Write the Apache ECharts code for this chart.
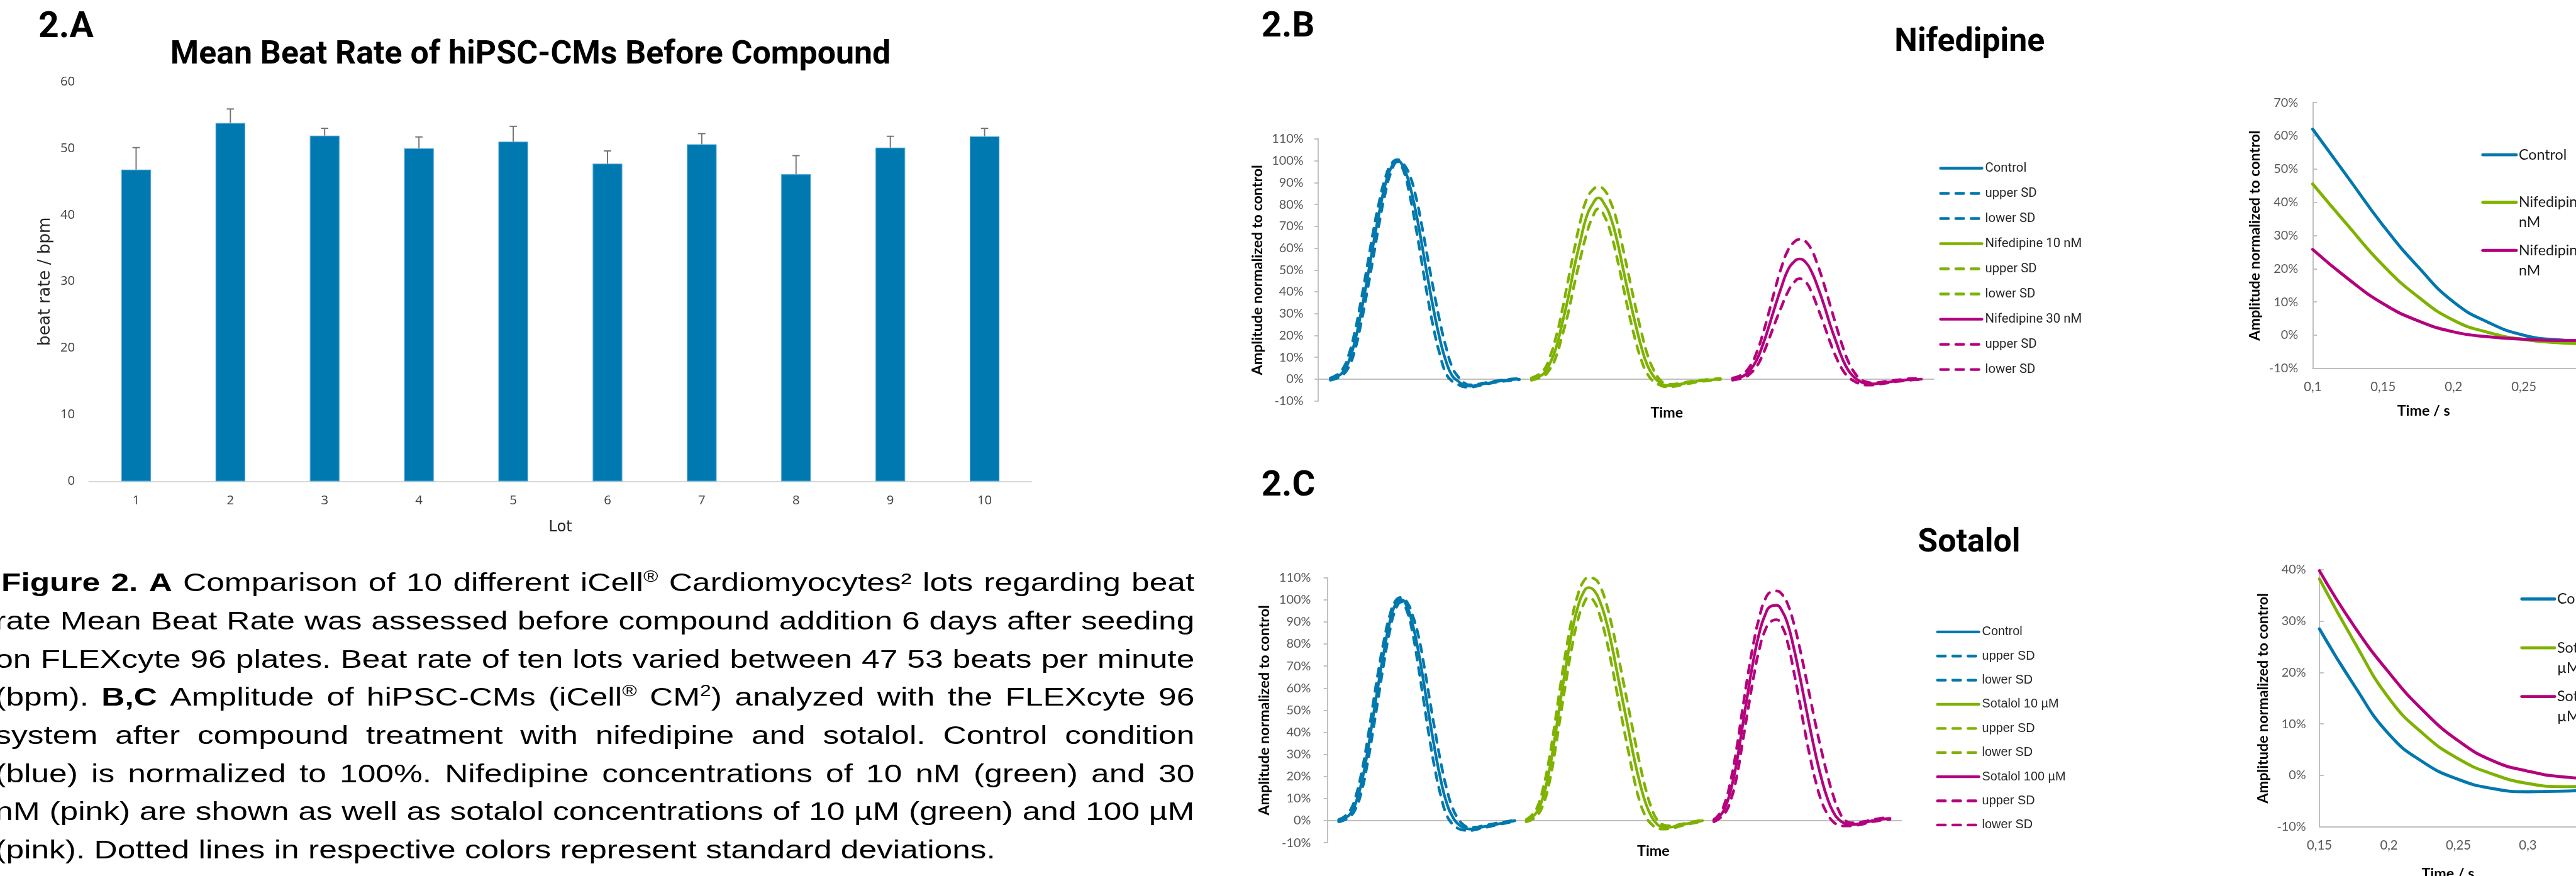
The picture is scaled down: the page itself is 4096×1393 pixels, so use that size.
<!DOCTYPE html>
<html><head><meta charset="utf-8">
<script src="https://cdn.jsdelivr.net/npm/echarts@6/dist/echarts.min.js"></script>
<style>html,body{margin:0;padding:0;background:#fff;overflow:hidden}#c{width:4096px;height:1393px}</style>
</head><body><div id="c"></div>
<script>
// ================= DATA =================
// Panel 2.A - mean beat rate per lot
const LOTS = ['1','2','3','4','5','6','7','8','9','10'];
const BEAT_RATE = [46.8, 53.8, 51.9, 50.0, 51.0, 47.7, 50.6, 46.1, 50.1, 51.8];
const BEAT_RATE_SD = [3.3, 2.1, 1.1, 1.7, 2.3, 1.9, 1.6, 2.8, 1.7, 1.2];

// Panels 2.B / 2.C - averaged beats; sample index where each beat starts on the time axis
const BEAT_START = [2, 35, 68];

// 2.B Nifedipine (amplitude % of control)
const NIF_CTRL    = [0, 1, 3, 8, 17, 30, 45, 61, 76, 89, 97, 100, 97, 89, 77, 62, 46, 31, 18, 8, 1.5, -1, -2.8, -3.2, -2.8, -2.2, -1.8, -1.2, -0.8, -0.5, -0.2, 0];
const NIF_CTRL_UP = [0.5, 1.8, 4.5, 11, 21.5, 35.5, 51, 67, 81, 92, 98.5, 100.5, 98.5, 93.5, 84, 70.5, 55, 40, 26, 14.5, 5.5, 1, -1.8, -2.6, -2.4, -1.9, -1.4, -0.9, -0.5, -0.2, 0.1, 0.3];
const NIF_CTRL_LO = [-0.5, 0.3, 1.8, 5.5, 13, 25, 39.5, 55, 71, 85, 95, 99.5, 95.5, 84.5, 70, 53.5, 37, 22.5, 11, 2.5, -1, -2.5, -3.6, -3.7, -3.2, -2.6, -2.1, -1.5, -1.1, -0.8, -0.5, -0.3];
const NIF10       = [0, 1, 2.5, 7, 14, 25, 37, 51, 63, 74, 80, 83, 80, 74, 64, 51, 38, 26, 15, 6.5, 1.5, -1.5, -2.8, -3, -2.5, -2, -1.5, -1, -0.7, -0.4, -0.2, 0];
const NIF10_UP    = [0.5, 1.8, 4, 10, 19, 31, 45, 59, 72, 82, 86.5, 88, 86.5, 81, 72.5, 60, 47, 34, 22, 11.5, 4.5, 0, -2, -2.4, -2.1, -1.6, -1.1, -0.7, -0.4, -0.1, 0.1, 0.3];
const NIF10_LO    = [-0.5, 0.3, 1.3, 4.5, 10, 19.5, 30, 43, 55, 66, 74, 78, 74.5, 67, 56, 43, 30, 18.5, 9, 2.5, -1, -2.6, -3.5, -3.5, -3, -2.4, -1.9, -1.4, -1, -0.7, -0.4, -0.2];
const NIF30       = [0, 0.7, 1.8, 4.5, 9, 16, 24.5, 33.5, 42, 49.5, 53.5, 55, 53.5, 49, 42, 34, 25, 17, 9.5, 4, 0.8, -1.2, -2, -2.2, -1.9, -1.5, -1.2, -0.8, -0.5, -0.3, -0.1, 0];
const NIF30_UP    = [0.5, 1.3, 3, 6.5, 12.5, 21, 31, 41.5, 51, 58.5, 62.5, 64, 63, 59, 52, 43.5, 34, 24.5, 15.5, 8, 3, 0, -1.3, -1.7, -1.5, -1.1, -0.8, -0.4, -0.1, 0.2, 0.3, 0.4];
const NIF30_LO    = [-0.5, 0.1, 0.8, 2.8, 6, 11.5, 18.5, 26, 33, 39.5, 44, 46, 44.5, 39.5, 32.5, 25, 17, 10, 4.5, 1, -1, -2.2, -2.7, -2.7, -2.3, -1.9, -1.5, -1.1, -0.8, -0.5, -0.3, -0.2];

// 2.C Sotalol (amplitude % of control)
const SOT_CTRL    = [0, 1, 3, 8, 17, 30, 46, 62, 77, 90, 98, 100, 97, 89, 77, 62, 46, 31, 18, 8, 2, -1.5, -3.2, -3.8, -3.6, -3, -2.5, -2, -1.5, -1, -0.5, 0];
const SOT_CTRL_UP = [0.5, 1.8, 4.5, 11, 21.5, 35.5, 52, 68, 82, 93, 99.5, 101, 99, 93, 84, 70.5, 55, 40, 26, 14.5, 6, 1, -2, -3, -3, -2.5, -2, -1.5, -1, -0.6, -0.2, 0.3];
const SOT_CTRL_LO = [-0.5, 0.3, 1.8, 5.5, 13, 25, 40, 56, 72, 86, 95.5, 99, 95, 85, 70, 53.5, 37, 22.5, 11, 2.5, -1.5, -3.5, -4.3, -4.5, -4.1, -3.5, -3, -2.4, -1.8, -1.3, -0.8, -0.4];
const SOT10       = [0, 1.5, 4.5, 11, 22, 37, 54, 70, 85, 96, 103, 105.5, 104, 99, 91, 80, 67, 54, 41, 28, 17, 8, 2, -1.5, -2.8, -3, -2.7, -2, -1.5, -1, -0.5, 0];
const SOT10_UP    = [0.5, 2.5, 6.5, 15, 27.5, 43.5, 61, 77, 91, 101.5, 108, 110, 109.5, 106, 99, 89, 77, 64, 51, 38, 25.5, 14.5, 6, 0.5, -1.8, -2.3, -2.2, -1.7, -1.2, -0.7, -0.2, 0.3];
const SOT10_LO    = [-0.5, 0.5, 2.5, 7.5, 16.5, 30.5, 47, 63, 78, 90, 97.5, 101, 99, 92.5, 83, 71, 57.5, 44, 31, 18.5, 8.5, 2, -1.5, -3.3, -3.8, -3.7, -3.3, -2.5, -1.9, -1.3, -0.8, -0.3];
const SOT100      = [0, 2, 6, 14, 26, 42, 58, 73, 85, 93, 97, 97.5, 95, 89, 79, 67, 54, 41, 29, 18.5, 10, 4, 0.5, -1.2, -1.8, -1.6, -1.2, -0.6, 0, 0.4, 0.8, 1];
const SOT100_UP   = [0.5, 3, 8.5, 18.5, 32.5, 49.5, 66, 80.5, 92, 100, 103.5, 104, 102.5, 98, 90, 79.5, 67.5, 55, 42.5, 31, 20.5, 11.5, 4.5, 0.5, -1, -1, -0.6, -0.1, 0.5, 0.9, 1.3, 1.6];
const SOT100_LO   = [-0.5, 1, 3.5, 9.5, 19.5, 34.5, 50, 65, 77.5, 86, 90, 91, 88, 80.5, 68.5, 55, 41, 28, 17, 8.5, 3, -0.5, -2, -2.4, -2.4, -2.1, -1.7, -1, -0.4, 0, 0.4, 0.6];

// Zoomed repolarisation tails (time in s, amplitude in %)
const ZB_T      = [0.1, 0.125, 0.15, 0.175, 0.2, 0.225, 0.25, 0.275, 0.3, 0.325, 0.35];
const ZB_CTRL   = [62, 47.5, 33, 20.5, 10, 3.8, 0, -1.4, -1.8, -1.8, -1.6];
const ZB_NIF10  = [45.5, 33, 21, 11.5, 4.5, 0.8, -1.3, -2.3, -2.6, -2.4, -2.1];
const ZB_NIF30  = [25.8, 17, 9.5, 4.3, 1, -0.5, -1.2, -1.6, -1.6, -1.5, -1.3];
const ZC_T      = [0.15, 0.175, 0.2, 0.225, 0.25, 0.275, 0.3, 0.325, 0.35, 0.375, 0.4];
const ZC_CTRL   = [28.5, 17.5, 8, 2.5, -0.8, -2.6, -3.2, -3.1, -2.8, -2.5, -2.2];
const ZC_SOT10  = [38.2, 26, 15, 8, 3.2, 0.2, -1.6, -2.2, -2, -1.7, -1.4];
const ZC_SOT100 = [39.8, 29, 20, 12.5, 6.7, 2.8, 0.8, -0.3, -0.6, -0.6, -0.5];

// Caption text (** = bold toggle, ^x = superscript char)
const CAPTION_LINES = [
  "**Figure 2. A** Comparison of 10 different iCell^® Cardiomyocytes² lots regarding beat",
  "rate Mean Beat Rate was assessed before compound addition 6 days after seeding",
  "on FLEXcyte 96 plates. Beat rate of ten lots varied between 47 53 beats per minute",
  "(bpm). **B,C** Amplitude of hiPSC-CMs (iCell^® CM^2) analyzed with the FLEXcyte 96",
  "system after compound treatment with nifedipine and sotalol. Control condition",
  "(blue) is normalized to 100%. Nifedipine concentrations of 10 nM (green) and 30",
  "nM (pink) are shown as well as sotalol concentrations of 10 µM (green) and 100 µM",
  "(pink). Dotted lines in respective colors represent standard deviations."
];

// ================= STYLE / LAYOUT =================
const S = 4096 / 4227;
const p = v => v * S;
const BLUE = '#0078AE', GREEN = '#7FB200', PINK = '#B4007D', BAR = '#0079B1';
const AXIS_GRAY = '#BFBFBF', LABEL_GRAY = '#595959';
const DASH = [p(13), p(12)];
const LW = p(4.5);
const ARIAL = '"Liberation Sans", Arial, sans-serif';
const CAP_Y = [959, 1021.6, 1084.2, 1146.8, 1209.4, 1272, 1334.6, 1397.2];
const CAP_LEFT = [2, -8, -8, -8, -8, -8, -8, -8];
const CAP_RIGHT = 1960;
const CAP_STRETCH = 1.265;   // caption glyphs are wider than plain Arial at this height

function buildCaption() {
  const cv = document.createElement('canvas').getContext('2d');
  const size = p(42), supSize = size * 0.62, K = CAP_STRETCH;
  const meas = (t, b, sz) => { cv.font = (b ? 'bold ' : 'normal ') + sz + 'px ' + ARIAL; return cv.measureText(t).width * K; };
  const els = [];
  let bold = false;
  CAPTION_LINES.forEach((line, li) => {
    const words = line.split(' ').map(w => {
      const segs = []; let buf = ''; let i = 0;
      while (i < w.length) {
        if (w.startsWith('**', i)) { if (buf) segs.push({t: buf, b: bold}); buf = ''; bold = !bold; i += 2; continue; }
        if (w[i] === '^') { if (buf) segs.push({t: buf, b: bold}); buf = ''; segs.push({t: w[i + 1], b: bold, sup: true}); i += 2; continue; }
        buf += w[i]; i++;
      }
      if (buf) segs.push({t: buf, b: bold});
      segs.forEach(s => { s.w = meas(s.t, s.b, s.sup ? supSize : size); });
      return segs;
    });
    const wordW = words.map(sg => sg.reduce((a, s) => a + s.w, 0));
    const total = wordW.reduce((a, b) => a + b, 0);
    const x0 = p(CAP_LEFT[li]), x1 = p(CAP_RIGHT);
    const last = li === CAPTION_LINES.length - 1;
    const gap = last ? meas(' ', false, size) : (x1 - x0 - total) / (words.length - 1);
    let x = x0; const y = p(CAP_Y[li]);
    words.forEach(sg => {
      sg.forEach(s => {
        els.push({type: 'text', x: x, y: s.sup ? y - size * 0.28 : y, scaleX: K, silent: true,
          style: {text: s.t, fontFamily: ARIAL, fontSize: s.sup ? supSize : size, fontWeight: s.b ? 'bold' : 'normal',
                  fill: '#000', align: 'left', verticalAlign: 'middle'}});
        x += s.w;
      });
      x += gap;
    });
  });
  return els;
}

function smallLegend(items, lx1, lx2, tx) {
  const els = [];
  items.forEach(it => {
    els.push({type: 'line', silent: true, shape: {x1: p(lx1), y1: p(it.y), x2: p(lx2), y2: p(it.y)},
      style: {stroke: it.color, lineWidth: p(5), lineCap: 'round'}});
    it.lines.forEach((t, k) => {
      els.push({type: 'text', silent: true, x: p(tx), y: p(it.y + k * 33),
        style: {text: t, fontFamily: 'Lato', fontSize: p(24), fill: '#1a1a1a', align: 'left', verticalAlign: 'middle'}});
    });
  });
  return els;
}

function plainText(t, cx, cy, size, weight, family, color) {
  return {type: 'text', silent: true, x: p(cx), y: p(cy),
    style: {text: t, fontFamily: family, fontSize: p(size), fontWeight: weight, fill: color || '#000', align: 'center', verticalAlign: 'middle'}};
}

function titleItem(text, x, capCenter, size, center) {
  const o = {text, left: p(x), top: p(capCenter) - p(size) / 2, padding: 0,
    textStyle: {fontFamily: 'Roboto', fontWeight: 'bold', fontSize: p(size), lineHeight: p(size), color: '#000'}};
  if (center) o.textAlign = 'center';
  return o;
}

function pctAxis(grid, min, max, margin, nameGap, tickInside) {
  return {gridIndex: grid, type: 'value', min, max, interval: 10,
    axisLine: {show: true, lineStyle: {color: AXIS_GRAY, width: p(2)}},
    axisTick: {show: true, inside: !!tickInside, length: p(tickInside ? 7 : 6), lineStyle: {color: AXIS_GRAY, width: p(2)}},
    splitLine: {show: false},
    axisLabel: {formatter: '{value}%', margin: p(margin), fontFamily: 'Lato', fontSize: p(20.5), color: LABEL_GRAY},
    name: 'Amplitude normalized to control', nameLocation: 'middle', nameGap: p(nameGap), nameMoveOverlap: false,
    nameTextStyle: {fontFamily: 'Lato', fontWeight: 'bold', fontSize: p(24), lineHeight: p(24), color: '#000'}};
}
function beatAxis(grid) {
  return {gridIndex: grid, type: 'value', min: 0, max: 101,
    axisLine: {show: true, onZero: true, lineStyle: {color: AXIS_GRAY, width: p(2)}},
    axisTick: {show: false}, axisLabel: {show: false}, splitLine: {show: false}};
}
function timeAxis(grid, min, max) {
  return {gridIndex: grid, type: 'value', min, max, interval: 0.05,
    axisLine: {show: true, onZero: false, lineStyle: {color: AXIS_GRAY, width: p(2)}},
    axisTick: {show: false}, splitLine: {show: false},
    axisLabel: {margin: p(20.5), fontFamily: 'Lato', fontSize: p(21), color: LABEL_GRAY,
      formatter: v => String(+v.toFixed(3)).replace('.', ',')}};
}

const series = [];
// Panel A
series.push({type: 'bar', xAxisIndex: 0, yAxisIndex: 0, data: BEAT_RATE, barWidth: '31.5%',
  itemStyle: {color: BAR, borderColor: '#4FA6D3', borderWidth: p(1.2)}, z: 2});
series.push({type: 'custom', xAxisIndex: 0, yAxisIndex: 0, z: 3,
  data: BEAT_RATE.map((v, i) => [i, v, BEAT_RATE_SD[i]]),
  renderItem: (params, api) => {
    const x = api.value(0), v = api.value(1), e = api.value(2);
    const b = api.coord([x, v]), t = api.coord([x, v + e]);
    const hw = p(6), st = {stroke: '#737373', lineWidth: p(2)};
    return {type: 'group', children: [
      {type: 'line', shape: {x1: b[0], y1: b[1], x2: t[0], y2: t[1]}, style: st},
      {type: 'line', shape: {x1: t[0] - hw, y1: t[1], x2: t[0] + hw, y2: t[1]}, style: st}
    ]};
  }});

function beatSeries(prefix, grid, groups) {
  groups.forEach((g, k) => {
    [[g.mean, ''], [g.up, '|upper SD'], [g.lo, '|lower SD']].forEach(([vals, suf]) => {
      series.push({type: 'line', name: prefix + '|' + g.name + suf, xAxisIndex: grid, yAxisIndex: grid,
        data: vals.map((v, i) => [BEAT_START[k] + i, v]), symbol: 'none', smooth: true,
        lineStyle: {color: g.color, width: LW, cap: 'round', join: 'round', type: suf ? DASH : 'solid'},
        itemStyle: {color: g.color}});
    });
  });
}
beatSeries('B', 1, [
  {name: 'Control', color: BLUE, mean: NIF_CTRL, up: NIF_CTRL_UP, lo: NIF_CTRL_LO},
  {name: 'Nifedipine 10 nM', color: GREEN, mean: NIF10, up: NIF10_UP, lo: NIF10_LO},
  {name: 'Nifedipine 30 nM', color: PINK, mean: NIF30, up: NIF30_UP, lo: NIF30_LO}]);
beatSeries('C', 2, [
  {name: 'Control', color: BLUE, mean: SOT_CTRL, up: SOT_CTRL_UP, lo: SOT_CTRL_LO},
  {name: 'Sotalol 10 µM', color: GREEN, mean: SOT10, up: SOT10_UP, lo: SOT10_LO},
  {name: 'Sotalol 100 µM', color: PINK, mean: SOT100, up: SOT100_UP, lo: SOT100_LO}]);

function tailSeries(prefix, grid, T, list) {
  list.forEach(([name, vals, color]) => {
    series.push({type: 'line', name: prefix + '|' + name, xAxisIndex: grid, yAxisIndex: grid,
      data: vals.map((v, i) => [T[i], v]), symbol: 'none', smooth: true,
      lineStyle: {color, width: p(5), cap: 'round'}, itemStyle: {color}});
  });
}
tailSeries('BZ', 3, ZB_T, [['Control', ZB_CTRL, BLUE], ['Nifedipine 10 nM', ZB_NIF10, GREEN], ['Nifedipine 30 nM', ZB_NIF30, PINK]]);
tailSeries('CZ', 4, ZC_T, [['Control', ZC_CTRL, BLUE], ['Sotalol 10 µM', ZC_SOT10, GREEN], ['Sotalol 100 µM', ZC_SOT100, PINK]]);

const legendData = (prefix, names) => names.flatMap(n => [
  {name: prefix + '|' + n, lineStyle: {type: 'solid'}},
  {name: prefix + '|' + n + '|upper SD', lineStyle: {type: DASH}},
  {name: prefix + '|' + n + '|lower SD', lineStyle: {type: DASH}}]);
const legendCommon = {orient: 'vertical', padding: 0, itemWidth: p(68), itemHeight: p(14), selectedMode: false,
  itemStyle: {opacity: 0}, lineStyle: {width: LW, cap: 'round'}, formatter: n => n.split('|').pop()};

const option = {
  animation: false,
  backgroundColor: '#fff',
  title: [
    titleItem('2.A', 63, 46, 59, false),
    titleItem('Mean Beat Rate of hiPSC-CMs Before Compound', 870.5, 91, 53.5, true),
    titleItem('2.B', 2070, 45, 58, false),
    titleItem('Nifedipine', 3232, 70, 53.5, true),
    titleItem('2.C', 2070, 798.5, 58, false),
    titleItem('Sotalol', 3231, 891.5, 53.5, true)
  ],
  legend: [
    Object.assign({}, legendCommon, {left: p(3182), top: p(265), itemGap: p(19.3),
      data: legendData('B', ['Control', 'Nifedipine 10 nM', 'Nifedipine 30 nM']),
      textStyle: {fontFamily: 'Roboto', fontSize: p(21), lineHeight: p(22), color: '#262626'}}),
    Object.assign({}, legendCommon, {left: p(3177), top: p(1026), itemGap: p(17.6),
      data: legendData('C', ['Control', 'Sotalol 10 µM', 'Sotalol 100 µM']),
      textStyle: {fontFamily: ARIAL, fontSize: p(20.5), lineHeight: p(22), color: '#262626'}})
  ],
  grid: [
    {left: p(146), top: p(134), width: p(1547), height: p(656), outerBoundsMode: 'none', containLabel: false},
    {left: p(2163), top: p(228), width: p(1010), height: p(430), outerBoundsMode: 'none', containLabel: false},
    {left: p(2178), top: p(948), width: p(942), height: p(435), outerBoundsMode: 'none', containLabel: false},
    {left: p(3795), top: p(168.4), width: p(577.5), height: p(436.2), outerBoundsMode: 'none', containLabel: false},
    {left: p(3806), top: p(935), width: p(570), height: p(421.6), outerBoundsMode: 'none', containLabel: false}
  ],
  xAxis: [
    {gridIndex: 0, type: 'category', data: LOTS,
     axisLine: {show: true, lineStyle: {color: '#D9D9D9', width: p(2)}}, axisTick: {show: false},
     axisLabel: {margin: p(21), fontFamily: 'Open Sans', fontSize: p(21), color: '#404040'},
     name: 'Lot', nameLocation: 'middle', nameGap: p(63), nameMoveOverlap: false,
     nameTextStyle: {fontFamily: '"DejaVu Sans"', fontSize: p(25), lineHeight: p(26), color: '#262626'}},
    beatAxis(1), beatAxis(2),
    timeAxis(3, 0.1, 0.35), timeAxis(4, 0.15, 0.4)
  ],
  yAxis: [
    {gridIndex: 0, type: 'value', min: 0, max: 60, interval: 10,
     axisLine: {show: false}, axisTick: {show: false}, splitLine: {show: false},
     axisLabel: {margin: p(23), fontFamily: 'Open Sans', fontSize: p(21), color: '#404040'},
     name: 'beat rate / bpm', nameLocation: 'middle', nameGap: p(58.5), nameMoveOverlap: false,
     nameTextStyle: {fontFamily: '"DejaVu Sans"', fontSize: p(27), lineHeight: p(27), color: '#262626'}},
    pctAxis(1, -10, 110, 24, 88, false),
    pctAxis(2, -10, 110, 27, 91, false),
    pctAxis(3, -10, 70, 24, 83, true),
    pctAxis(4, -10, 40, 22, 80, true)
  ],
  series,
  graphic: [
    ...buildCaption(),
    plainText('Time', 2735, 677, 24, 'bold', 'Lato'),
    plainText('Time', 2713, 1397, 24, 'bold', 'Lato'),
    plainText('Time / s', 3977, 674, 24, 'bold', 'Lato'),
    plainText('Time / s', 4017, 1434, 24, 'bold', 'Lato'),
    ...smallLegend([
      {y: 254, color: BLUE, lines: ['Control']},
      {y: 332, color: GREEN, lines: ['Nifedipine 10', 'nM']},
      {y: 411, color: PINK, lines: ['Nifedipine 30', 'nM']}], 4074, 4129, 4133),
    ...smallLegend([
      {y: 983, color: BLUE, lines: ['Control']},
      {y: 1063, color: GREEN, lines: ['Sotalol 10', 'µM']},
      {y: 1143, color: PINK, lines: ['Sotalol 100', 'µM']}], 4138, 4192, 4196)
  ]
};

const chart = echarts.init(document.getElementById('c'), null, {renderer: 'canvas', width: 4096, height: 1393});
chart.setOption(option);
</script>
</body></html>
